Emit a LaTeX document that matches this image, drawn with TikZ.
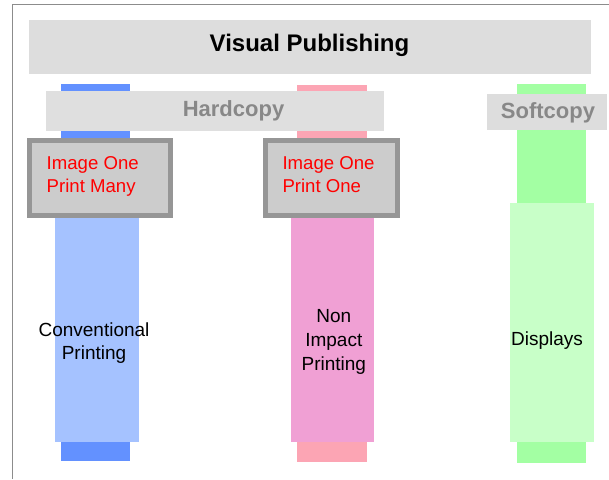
\documentclass[tikz,border=0pt]{standalone}
\usepackage{fontspec}
\setmainfont{Liberation Sans}
\definecolor{blueDark}{HTML}{6391FF}
\definecolor{blueLight}{HTML}{A5C2FF}
\definecolor{pinkDark}{HTML}{FCA5B4}
\definecolor{pinkLight}{HTML}{F0A0D4}
\definecolor{greenDark}{HTML}{A3FFA3}
\definecolor{greenLight}{HTML}{C8FFC8}
\definecolor{panel}{HTML}{DDDDDD}
\definecolor{boxfill}{HTML}{CCCCCC}
\definecolor{boxedge}{HTML}{969696}
\definecolor{headgray}{HTML}{888888}
\definecolor{framegray}{HTML}{8C8C8C}
\tikzset{
  block/.style={inner sep=0pt, outer sep=0pt, anchor=north west},
  bar/.style={block},
  banner/.style={block, fill=panel},
  category/.style={inner sep=0pt, outer sep=0pt, anchor=base,
    text=headgray, font=\fontsize{22}{26}\selectfont\bfseries},
  method/.style={draw=boxedge, fill=boxfill, line width=5pt,
    inner sep=0pt, outer sep=0pt},
  methodtext/.style={inner sep=0pt, outer sep=0pt, anchor=base west,
    align=left, text=red, font=\fontsize{18.6}{23}\selectfont},
  tech/.style={inner sep=0pt, outer sep=0pt, anchor=base, align=center,
    font=\fontsize{19}{23}\selectfont}
}
\begin{document}
\begin{tikzpicture}[x=1pt, y=-1pt]
  \useasboundingbox (0,0) rectangle (609,479);
  % frame edges
  \coordinate (fbl) at (12,479);
  \coordinate (ftl) at (12,4.3);
  \coordinate (ftr) at (609,4.3);
  \draw[framegray, line width=1pt] (fbl) -- (ftl) -- (ftr);

  % dark columns
  \node[bar, fill=blueDark,  minimum width=69, minimum height=377] (colA) at (61,84) {};
  \node[bar, fill=pinkDark,  minimum width=70, minimum height=377] (colB) at (297,85) {};
  \node[bar, fill=greenDark, minimum width=69, minimum height=379] (colC) at (517,84) {};

  % light columns
  \node[bar, fill=blueLight,  minimum width=84, minimum height=225] (lightA) at (55,217) {};
  \node[bar, fill=pinkLight,  minimum width=83, minimum height=224] (lightB) at (291,218) {};
  \node[bar, fill=greenLight, minimum width=84, minimum height=239] (lightC) at (510,203) {};

  % headings
  \node[banner, minimum width=562, minimum height=54] (top) at (29,20) {};
  \node[anchor=base, inner sep=0pt, font=\fontsize{24}{28}\selectfont\bfseries]
    (topText) at (309.5,51) {Visual Publishing};

  \node[banner, fill=panel!95!white, minimum width=338, minimum height=40] (hard) at (46,91) {};
  \node[category] (hardText) at (233.5,116.7) {Hardcopy};

  \node[banner, minimum width=120, minimum height=36] (soft) at (487,94) {};
  \node[category] (softText) at (548,118.7) {Softcopy};

  % image/print boxes (text anchored on the baseline of the last line)
  \node[method, minimum width=141, minimum height=75] (manyBox) at (99.7,178.3) {};
  \node[methodtext] (manyText) at (46.7,192) {Image One\\Print Many};

  \node[method, minimum width=132.5, minimum height=75] (oneBox) at (331.25,178.3) {};
  \node[methodtext] (oneText) at (282.5,192) {Image One\\Print One};

  % technology labels
  \node[tech] (conv) at (94,359.5) {Conventional\\Printing};
  \node[tech, font=\fontsize{19}{24}\selectfont] (nonimp) at (333.8,370.7) {Non\\Impact\\Printing};
  \node[tech] (disp) at (547,345.7) {Displays};
\end{tikzpicture}
\end{document}
